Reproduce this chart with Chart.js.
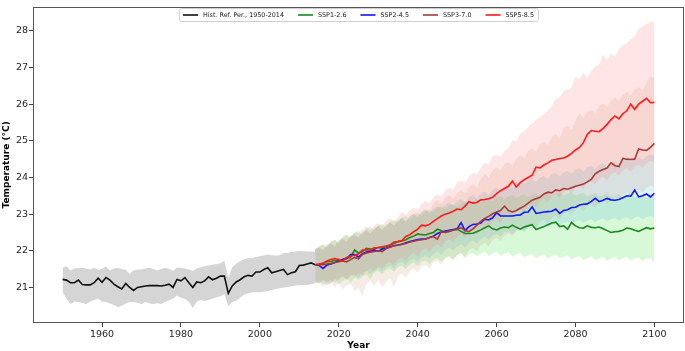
<!DOCTYPE html>
<html><head><meta charset="utf-8">
<script src="https://cdn.jsdelivr.net/npm/chart.js@4.4.1/dist/chart.umd.min.js"></script>
<style>html,body{margin:0;padding:0;background:#fff;}#wrap{width:685px;height:351px;position:relative;}</style>
</head><body><div id="wrap"><canvas id="c" width="685" height="351"></canvas></div>
<script>
// ---------- categories ----------
const histYears = [1950,1951,1952,1953,1954,1955,1956,1957,1958,1959,1960,1961,1962,1963,1964,1965,1966,1967,1968,1969,1970,1971,1972,1973,1974,1975,1976,1977,1978,1979,1980,1981,1982,1983,1984,1985,1986,1987,1988,1989,1990,1991,1992,1993,1994,1995,1996,1997,1998,1999,2000,2001,2002,2003,2004,2005,2006,2007,2008,2009,2010,2011,2012,2013,2014];
const sspYears = [2014,2015,2016,2017,2018,2019,2020,2021,2022,2023,2024,2025,2026,2027,2028,2029,2030,2031,2032,2033,2034,2035,2036,2037,2038,2039,2040,2041,2042,2043,2044,2045,2046,2047,2048,2049,2050,2051,2052,2053,2054,2055,2056,2057,2058,2059,2060,2061,2062,2063,2064,2065,2066,2067,2068,2069,2070,2071,2072,2073,2074,2075,2076,2077,2078,2079,2080,2081,2082,2083,2084,2085,2086,2087,2088,2089,2090,2091,2092,2093,2094,2095,2096,2097,2098,2099,2100];
const xTicks = [1960,1980,2000,2020,2040,2060,2080,2100];
const yTicks = [21,22,23,24,25,26,27,28];
const seriesLabels = ['Hist. Ref. Per., 1950-2014','SSP1-2.6','SSP2-4.5','SSP3-7.0','SSP5-8.5'];

// ---------- historical ----------
const histMean = [21.22,21.20,21.13,21.13,21.20,21.08,21.07,21.07,21.13,21.25,21.14,21.27,21.20,21.09,21.02,20.96,21.11,21.00,20.92,21.00,21.02,21.04,21.05,21.05,21.05,21.04,21.06,21.09,21.00,21.22,21.18,21.27,21.13,21.00,21.15,21.13,21.18,21.29,21.21,21.25,21.31,21.31,20.84,21.04,21.15,21.21,21.29,21.33,21.31,21.42,21.42,21.49,21.54,21.40,21.43,21.46,21.49,21.35,21.40,21.43,21.60,21.61,21.64,21.67,21.62];
const histUpper = [21.54,21.58,21.46,21.52,21.53,21.54,21.52,21.49,21.53,21.48,21.50,21.58,21.46,21.52,21.53,21.50,21.48,21.37,21.46,21.49,21.49,21.52,21.54,21.50,21.46,21.50,21.54,21.50,21.45,21.54,21.54,21.52,21.49,21.45,21.52,21.55,21.58,21.60,21.62,21.63,21.66,21.73,21.27,21.55,21.65,21.72,21.77,21.80,21.80,21.83,21.85,21.87,21.90,21.88,21.87,21.88,21.93,21.94,21.97,21.98,22.00,21.99,21.98,21.98,21.97];
const histLower = [20.87,20.70,20.55,20.62,20.60,20.58,20.54,20.62,20.66,20.69,20.62,20.60,20.56,20.52,20.46,20.50,20.56,20.60,20.60,20.58,20.55,20.60,20.56,20.55,20.57,20.55,20.60,20.65,20.70,20.78,20.72,20.69,20.60,20.44,20.62,20.66,20.64,20.66,20.70,20.73,20.76,20.82,20.49,20.60,20.64,20.72,20.80,20.84,20.86,20.87,20.87,20.88,20.90,20.93,20.96,20.98,21.00,21.01,21.03,21.05,21.06,21.07,21.07,21.09,21.11];

// ---------- SSP1-2.6 ----------
const ssp126 = [21.62,21.63,21.66,21.70,21.71,21.74,21.73,21.76,21.80,21.82,22.02,21.94,21.98,22.07,22.05,22.05,22.09,22.07,22.12,22.16,22.20,22.25,22.27,22.30,22.36,22.40,22.46,22.44,22.43,22.47,22.50,22.59,22.55,22.50,22.53,22.56,22.59,22.53,22.47,22.47,22.48,22.52,22.57,22.63,22.68,22.60,22.57,22.62,22.65,22.63,22.70,22.64,22.59,22.65,22.68,22.71,22.58,22.62,22.66,22.71,22.76,22.78,22.66,22.68,22.59,22.77,22.68,22.63,22.62,22.68,22.64,22.63,22.65,22.60,22.55,22.50,22.52,22.53,22.56,22.62,22.60,22.56,22.53,22.58,22.63,22.60,22.62];
const ssp126Upper = [22.05,22.12,22.18,22.10,22.25,22.30,22.22,22.38,22.45,22.36,22.50,22.55,22.42,22.60,22.66,22.55,22.70,22.74,22.62,22.80,22.85,22.78,22.90,22.95,22.84,23.00,23.05,22.95,23.10,23.12,23.05,23.18,23.22,23.12,23.25,23.28,23.18,23.30,23.34,23.25,23.36,23.40,23.30,23.42,23.45,23.35,23.46,23.50,23.40,23.48,23.52,23.42,23.50,23.55,23.45,23.52,23.56,23.46,23.54,23.58,23.48,23.55,23.60,23.50,23.56,23.60,23.50,23.55,23.58,23.48,23.54,23.58,23.48,23.52,23.56,23.46,23.50,23.55,23.45,23.52,23.56,23.46,23.50,23.54,23.44,23.50,23.52];
const ssp126Lower = [21.15,21.10,21.20,21.05,21.12,21.22,21.08,21.18,21.25,21.12,21.28,21.20,21.30,21.36,21.22,21.40,21.45,21.35,21.48,21.52,21.42,21.55,21.60,21.50,21.62,21.68,21.58,21.70,21.74,21.64,21.75,21.80,21.70,21.82,21.86,21.76,21.88,21.92,21.80,21.90,21.95,21.85,21.92,21.98,21.86,21.94,21.98,21.85,21.92,21.96,21.84,21.90,21.95,21.82,21.88,21.92,21.80,21.86,21.90,21.78,21.85,21.90,21.80,21.84,21.88,21.76,21.82,21.86,21.75,21.80,21.85,21.74,21.80,21.84,21.72,21.78,21.83,21.74,21.80,21.84,21.73,21.78,21.82,21.72,21.78,21.80,21.68];

// ---------- SSP2-4.5 ----------
const ssp245 = [21.62,21.60,21.52,21.61,21.64,21.68,21.72,21.76,21.79,21.90,21.90,21.83,21.92,21.97,21.99,22.02,21.99,22.04,22.07,22.11,22.14,22.16,22.18,22.22,22.25,22.28,22.31,22.32,22.32,22.36,22.40,22.47,22.51,22.54,22.56,22.58,22.60,22.77,22.55,22.66,22.72,22.73,22.76,22.86,22.84,22.90,23.04,22.95,22.95,22.95,22.95,22.97,22.98,23.05,23.06,23.20,23.02,23.04,23.06,23.07,23.08,23.14,23.02,23.10,23.12,23.18,23.19,23.25,23.27,23.28,23.35,23.43,23.34,23.38,23.43,23.39,23.38,23.40,23.45,23.50,23.49,23.66,23.47,23.50,23.55,23.47,23.57];
const ssp245Upper = [22.05,22.10,22.02,22.18,22.22,22.14,22.30,22.35,22.26,22.42,22.46,22.38,22.52,22.58,22.48,22.62,22.68,22.58,22.72,22.78,22.70,22.84,22.90,22.80,22.95,23.00,22.92,23.05,23.10,23.02,23.15,23.22,23.12,23.26,23.32,23.22,23.36,23.42,23.32,23.46,23.52,23.42,23.56,23.62,23.52,23.66,23.72,23.62,23.76,23.80,23.72,23.84,23.90,23.80,23.92,23.98,23.88,24.00,24.05,23.96,24.08,24.12,24.02,24.14,24.18,24.10,24.22,24.26,24.16,24.28,24.32,24.22,24.34,24.38,24.28,24.40,24.44,24.35,24.46,24.50,24.42,24.52,24.56,24.48,24.58,24.62,24.60];
const ssp245Lower = [21.12,21.18,21.08,21.15,21.22,21.12,21.25,21.30,21.20,21.32,21.36,21.26,21.40,21.45,21.35,21.48,21.52,21.42,21.56,21.60,21.52,21.65,21.70,21.60,21.74,21.78,21.70,21.82,21.88,21.80,21.92,21.98,21.90,22.02,22.08,22.00,22.12,22.18,22.10,22.22,22.28,22.20,22.32,22.38,22.30,22.42,22.46,22.38,22.50,22.54,22.46,22.56,22.60,22.52,22.62,22.66,22.58,22.68,22.72,22.64,22.72,22.76,22.68,22.76,22.80,22.72,22.80,22.84,22.76,22.82,22.86,22.78,22.84,22.88,22.80,22.86,22.90,22.82,22.88,22.92,22.84,22.90,22.94,22.86,22.92,22.95,22.90];

// ---------- SSP3-7.0 ----------
const ssp370 = [21.62,21.63,21.62,21.64,21.65,21.68,21.70,21.72,21.70,21.76,21.82,21.78,21.90,21.94,21.96,21.98,22.00,21.98,22.06,22.10,22.14,22.15,22.18,22.20,22.24,22.26,22.29,22.30,22.32,22.36,22.39,22.32,22.52,22.50,22.54,22.57,22.59,22.63,22.55,22.52,22.60,22.70,22.80,22.88,22.94,23.01,23.06,23.10,23.22,23.10,23.06,23.10,23.16,23.22,23.30,23.38,23.42,23.46,23.55,23.60,23.58,23.66,23.64,23.70,23.68,23.72,23.76,23.79,23.82,23.88,23.95,24.10,24.17,24.22,24.26,24.40,24.32,24.30,24.52,24.50,24.49,24.50,24.78,24.75,24.74,24.82,24.93];
const ssp370Upper = [22.02,22.08,22.00,22.15,22.20,22.10,22.28,22.32,22.22,22.40,22.42,22.35,22.50,22.55,22.45,22.60,22.66,22.55,22.70,22.76,22.68,22.82,22.88,22.78,22.95,23.02,22.92,23.08,23.15,23.05,23.30,23.38,23.28,23.45,23.52,23.42,23.58,23.66,23.56,23.74,23.82,23.72,23.95,24.10,24.00,24.20,24.28,24.18,24.36,24.42,24.32,24.50,24.62,24.52,24.72,24.80,24.70,24.92,24.98,24.88,25.10,25.18,25.06,25.36,25.42,25.30,25.55,25.74,25.62,25.80,25.84,25.76,25.95,26.02,25.92,26.10,26.18,26.08,26.26,26.34,26.24,26.40,26.46,26.38,26.60,26.76,26.72];
const ssp370Lower = [21.10,21.15,21.02,21.08,21.18,21.00,21.12,20.95,21.05,21.10,20.90,21.00,20.75,21.10,21.18,21.05,21.20,21.00,21.15,21.25,21.00,21.30,21.38,21.25,21.45,21.50,21.40,21.58,21.62,21.52,21.68,21.72,21.62,21.78,21.84,21.74,21.90,21.95,21.85,22.02,22.08,21.98,22.15,22.22,22.12,22.30,22.36,22.26,22.42,22.48,22.40,22.55,22.62,22.52,22.68,22.74,22.64,22.80,22.86,22.76,22.90,22.96,22.86,23.02,23.08,22.98,23.12,23.18,23.08,23.22,23.28,23.18,23.32,23.38,23.28,23.42,23.48,23.38,23.52,23.58,23.48,23.62,23.68,23.58,23.72,23.78,23.74];

// ---------- SSP5-8.5 ----------
const ssp585 = [21.62,21.63,21.66,21.72,21.76,21.79,21.76,21.72,21.82,21.86,21.88,21.92,22.02,22.03,22.02,22.08,22.09,22.11,22.13,22.16,22.24,22.25,22.28,22.39,22.44,22.52,22.59,22.70,22.68,22.72,22.80,22.88,22.95,23.00,23.03,23.08,23.14,23.12,23.22,23.34,23.30,23.32,23.39,23.40,23.42,23.46,23.56,23.64,23.70,23.76,23.90,23.74,23.86,23.94,24.00,24.06,24.28,24.26,24.34,24.40,24.47,24.49,24.52,24.53,24.58,24.66,24.75,24.82,24.95,25.18,25.28,25.26,25.25,25.34,25.45,25.58,25.68,25.60,25.74,25.82,26.00,25.86,26.00,26.08,26.16,26.04,26.05];
const ssp585Upper = [22.05,22.12,22.18,22.08,22.25,22.30,22.20,22.36,22.42,22.34,22.52,22.48,22.58,22.66,22.56,22.70,22.76,22.66,22.82,22.88,22.80,22.92,23.06,22.98,23.10,23.18,23.12,23.28,23.36,23.30,23.46,23.54,23.48,23.66,23.72,23.66,23.86,23.92,23.86,24.02,24.13,24.08,24.26,24.40,24.34,24.58,24.62,24.55,24.72,24.80,25.02,24.98,25.20,25.26,25.38,25.47,25.56,25.65,25.72,25.83,25.96,26.14,26.18,26.36,26.40,26.45,26.76,26.68,26.86,26.72,26.90,27.03,27.08,27.35,27.21,27.39,27.30,27.50,27.61,27.66,27.78,27.86,28.06,28.12,28.19,28.24,28.28];
const ssp585Lower = [21.18,21.10,21.22,21.14,21.08,21.25,21.18,21.30,21.22,21.35,21.28,21.40,21.32,21.45,21.52,21.42,21.58,21.50,21.64,21.70,21.60,21.76,21.82,21.72,21.88,21.94,21.84,22.00,22.06,21.98,22.12,22.18,22.08,22.26,22.32,22.22,22.38,22.46,22.36,22.52,22.58,22.48,22.66,22.72,22.62,22.80,22.86,22.76,22.94,23.00,22.90,23.08,23.14,23.04,23.22,23.28,23.18,23.36,23.42,23.32,23.48,23.54,23.44,23.60,23.66,23.56,23.72,23.78,23.68,23.84,23.90,23.80,23.96,24.02,23.92,24.08,24.14,24.04,24.20,24.26,24.16,24.30,24.36,24.26,24.40,24.46,24.42];

// ---------- styles ----------
const lineColors = ['#111111','#1a8a1a','#1515ff','#a83a3a','#ff1a1a'];
const bandColors = ['rgba(128,128,128,0.33)','rgba(144,238,144,0.35)','rgba(100,190,225,0.22)','rgba(190,120,80,0.14)','rgba(255,99,99,0.17)'];

const pts = (xs, ys) => xs.map((x, i) => ({x: x, y: ys[i]}));
function band(xs, up, lo, color, order) {
  return [
    {data: pts(xs, up), fill: '+1', backgroundColor: color, borderWidth: 0, pointRadius: 0, order: order},
    {data: pts(xs, lo), fill: false, borderWidth: 0, pointRadius: 0, order: order}
  ];
}
function line(xs, ys, i) {
  return {label: seriesLabels[i], data: pts(xs, ys), borderColor: lineColors[i], borderWidth: 1.6, pointRadius: 0, fill: false, order: 5 - i};
}

const datasets = [].concat(
  band(histYears, histUpper, histLower, bandColors[0], 20),
  band(sspYears, ssp126Upper, ssp126Lower, bandColors[1], 19),
  band(sspYears, ssp245Upper, ssp245Lower, bandColors[2], 18),
  band(sspYears, ssp370Upper, ssp370Lower, bandColors[3], 17),
  band(sspYears, ssp585Upper, ssp585Lower, bandColors[4], 16),
  [line(histYears, histMean, 0), line(sspYears, ssp126, 1), line(sspYears, ssp245, 2), line(sspYears, ssp370, 3), line(sspYears, ssp585, 4)]
);

const frame = {
  id: 'frame',
  afterDraw(chart) {
    const a = chart.chartArea, ctx = chart.ctx;
    ctx.save();
    ctx.strokeStyle = '#555';
    ctx.lineWidth = 1;
    ctx.strokeRect(Math.round(a.left) + 0.5, Math.round(a.top) + 0.5, Math.round(a.right - a.left) - 1, Math.round(a.bottom - a.top) - 1);
    ctx.restore();
  }
};

const boxLegend = {
  id: 'boxLegend',
  afterDraw(chart) {
    const ctx = chart.ctx, a = chart.chartArea;
    const items = chart.data.datasets.filter(d => d.label);
    ctx.save();
    ctx.font = '6.4px "DejaVu Sans"';
    const handle = 15, gapT = 5, gapI = 14, padX = 4;
    let total = padX * 2;
    items.forEach((d, i) => { total += handle + gapT + ctx.measureText(d.label).width + (i < items.length - 1 ? gapI : 0); });
    const cx = (a.left + a.right) / 2;
    const x0 = cx - total / 2, y0 = 8.5, h = 13;
    ctx.fillStyle = 'rgba(255,255,255,0.85)';
    ctx.strokeStyle = '#d0d0d0';
    ctx.lineWidth = 1;
    ctx.beginPath();
    ctx.roundRect(Math.round(x0) + 0.5, y0, Math.round(total), h, 2);
    ctx.fill(); ctx.stroke();
    let x = x0 + padX;
    const ym = y0 + h / 2;
    ctx.textBaseline = 'middle';
    items.forEach(d => {
      ctx.strokeStyle = d.borderColor; ctx.lineWidth = 1.6;
      ctx.beginPath(); ctx.moveTo(x, ym); ctx.lineTo(x + handle, ym); ctx.stroke();
      x += handle + gapT;
      ctx.fillStyle = '#222';
      ctx.fillText(d.label, x, ym + 0.5);
      x += ctx.measureText(d.label).width + gapI;
    });
    ctx.restore();
  }
};

new Chart(document.getElementById('c'), {
  type: 'line',
  data: {datasets: datasets},
  plugins: [frame, boxLegend],
  options: {
    responsive: false, animation: false, devicePixelRatio: 1,
    layout: {padding: {left: 0, right: 1, top: 1, bottom: 0}},
    plugins: {legend: {display: false}, tooltip: {enabled: false}, filler: {drawTime: 'beforeDatasetsDraw', propagate: false}},
    elements: {point: {radius: 0}, line: {tension: 0}},
    scales: {
      x: {
        type: 'linear', min: 1942.5, max: 2107.5,
        afterBuildTicks: s => { s.ticks = xTicks.map(v => ({value: v})); },
        afterFit: s => { s.height = 28; },
        grid: {display: true, drawOnChartArea: false, drawTicks: true, tickLength: 4, tickColor: '#444', color: '#444'},
        border: {display: false},
        ticks: {font: {family: 'DejaVu Sans', size: 9.5}, color: '#262626', padding: 2, maxRotation: 0, autoSkip: false, callback: v => String(v)},
        title: {display: true, text: 'Year', font: {family: 'DejaVu Sans', size: 9, weight: 'bold'}, color: '#000', padding: {top: 0, bottom: 0}}
      },
      y: {
        type: 'linear', min: 20.03, max: 28.66,
        afterBuildTicks: s => { s.ticks = yTicks.map(v => ({value: v})); },
        afterFit: s => { s.width = 33; },
        grid: {display: true, drawOnChartArea: false, drawTicks: true, tickLength: 4, tickColor: '#444', color: '#444'},
        border: {display: false},
        ticks: {font: {family: 'DejaVu Sans', size: 9.5}, color: '#262626', padding: 1, autoSkip: false, callback: v => String(v)},
        title: {display: true, text: 'Temperature (°C)', font: {family: 'DejaVu Sans', size: 9, weight: 'bold'}, color: '#000', padding: {top: 1, bottom: 0}}
      }
    }
  }
});
</script></body></html>
